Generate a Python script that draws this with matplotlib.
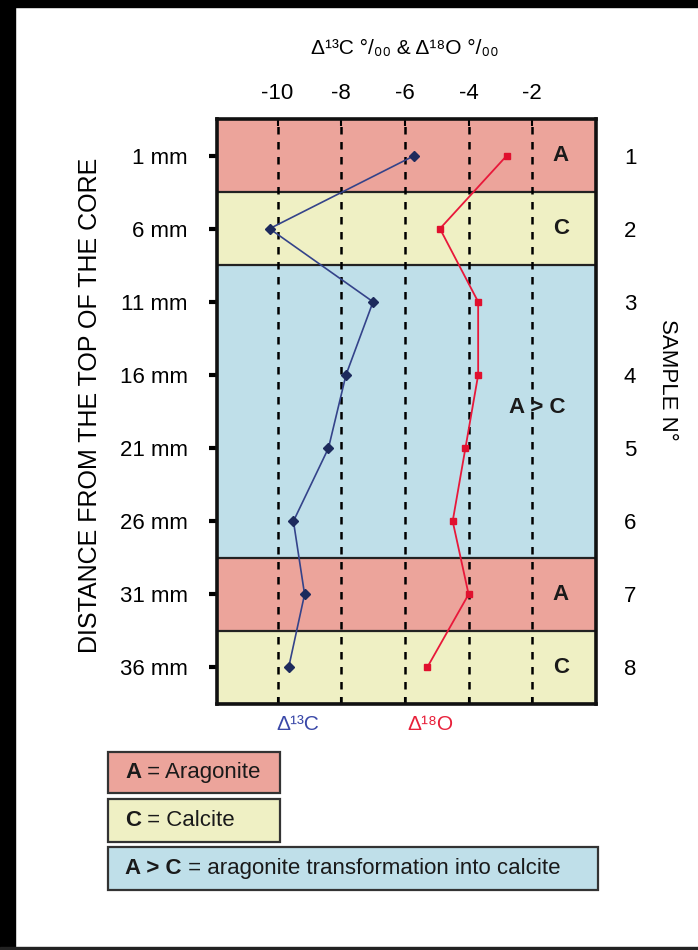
import matplotlib
matplotlib.use("Agg")
import matplotlib.pyplot as plt
from matplotlib.patches import Rectangle

plt.rcParams['font.family'] = ['Liberation Sans', 'DejaVu Sans']

# Data
samples = [1, 2, 3, 4, 5, 6, 7, 8]
depth_labels = ["1 mm", "6 mm", "11 mm", "16 mm", "21 mm", "26 mm", "31 mm", "36 mm"]
c13 = [-5.7, -10.25, -7.0, -7.85, -8.4, -9.5, -9.15, -9.65]
o18 = [-2.8, -4.9, -3.7, -3.7, -4.1, -4.5, -4.0, -5.3]
x_ticks = [-10, -8, -6, -4, -2]

# mineral bands (from sample, to sample, label)
band_start = [0.5, 1.5, 2.5, 6.5, 7.5]
band_end = [1.5, 2.5, 6.5, 7.5, 8.5]
band_kind = ["A", "C", "A > C", "A", "C"]
band_colors = {"A": "#eca49b", "C": "#eff0c4", "A > C": "#bfdfe9"}

W, H = 698, 950
fig = plt.figure(figsize=(W / 100, H / 100), dpi=100)

# black frame of the scan
fig.patches.append(Rectangle((0, 0), 15 / W, 1, transform=fig.transFigure, color="black", zorder=0))
fig.patches.append(Rectangle((0, 1 - 7 / H), 1, 7 / H, transform=fig.transFigure, color="black", zorder=0))
fig.patches.append(Rectangle((0, 0), 1, 3 / H, transform=fig.transFigure, color="#222222", zorder=0))

ax = fig.add_axes([217 / W, 1 - 704 / H, 379 / W, 585 / H])

for y0, y1, k in zip(band_start, band_end, band_kind):
    ax.axhspan(y0, y1, color=band_colors[k], zorder=0, lw=0)
    ax.axhline(y1, color="#222222", lw=1.6, zorder=1)
    ax.text(-1.85 if k == "A > C" else -1.1, (y0 + y1) / 2 - (0.05 if k == "A > C" else 0), k,
            ha="center", va="center", fontsize=16, fontweight="bold", color="#1a1a1a", zorder=5)

for xv in x_ticks:
    ax.axvline(xv, color="black", lw=1.8, ls=(0, (3, 3)), zorder=2)

ax.plot(c13, samples, color="#34438a", lw=1.2, marker="D", ms=5,
        mfc="#1d2a5c", mec="#1d2a5c", zorder=4)
ax.plot(o18, samples, color="#e8183a", lw=1.3, marker="s", ms=5,
        mfc="#e0102e", mec="#e0102e", zorder=4)

ax.set_xlim(-11.9, 0)
ax.set_ylim(8.5, 0.5)
ax.set_xticks(x_ticks)
ax.set_xticklabels([str(v) for v in x_ticks])
ax.tick_params(axis="x", which="both", top=True, bottom=True, labeltop=True,
               labelbottom=False, direction="in", length=5, width=1.5,
               labelsize=16, pad=11, colors="black")
ax.set_yticks(samples)
ax.set_yticklabels(depth_labels)
ax.tick_params(axis="y", direction="out", length=6, width=3, labelsize=16, pad=15,
               right=False)
for s in ax.spines.values():
    s.set_linewidth(2.6)
    s.set_color("#111111")

ax2 = ax.twinx()
ax2.set_ylim(8.5, 0.5)
ax2.set_yticks(samples)
ax2.set_yticklabels([str(s) for s in samples])
ax2.tick_params(axis="y", length=0, labelsize=16, pad=20)
for s in ax2.spines.values():
    s.set_visible(False)

fig.text(405 / W, 1 - 48 / H, "Δ¹³C °/₀₀ & Δ¹⁸O °/₀₀", ha="center", va="center", fontsize=15)
fig.text(90 / W, 1 - 405 / H, "DISTANCE FROM THE TOP OF THE CORE", rotation=90,
         ha="center", va="center", fontsize=18)
fig.text(667 / W, 1 - 380 / H, "SAMPLE N°", rotation=-90, ha="center", va="center", fontsize=16)
fig.text(298 / W, 1 - 724 / H, "Δ¹³C", ha="center", va="center", fontsize=15, color="#3a48a8")
fig.text(430 / W, 1 - 724 / H, "Δ¹⁸O", ha="center", va="center", fontsize=15, color="#e8203a")

# legend boxes
legend_rows = [
    (752, 793, 280, "A", " = Aragonite", band_colors["A"]),
    (799, 842, 280, "C", " = Calcite", band_colors["C"]),
    (847, 890, 598, "A > C", " = aragonite transformation into calcite", band_colors["A > C"]),
]
renderer = fig.canvas.get_renderer()
for top, bot, right, bold, rest, col in legend_rows:
    fig.patches.append(Rectangle((108 / W, 1 - bot / H), (right - 108) / W, (bot - top) / H,
                                 transform=fig.transFigure, facecolor=col,
                                 edgecolor="#333333", lw=1.6))
    yc = 1 - (top + bot) / 2 / H
    t = fig.text(125 / W, yc, bold, ha="left", va="center", fontsize=16,
                 fontweight="bold", color="#1a1a1a")
    ext = t.get_window_extent(renderer)
    fig.text(ext.x1 / W, yc, rest, ha="left", va="center", fontsize=16, color="#1a1a1a")

fig.savefig("out.png", dpi=100, facecolor="white")
